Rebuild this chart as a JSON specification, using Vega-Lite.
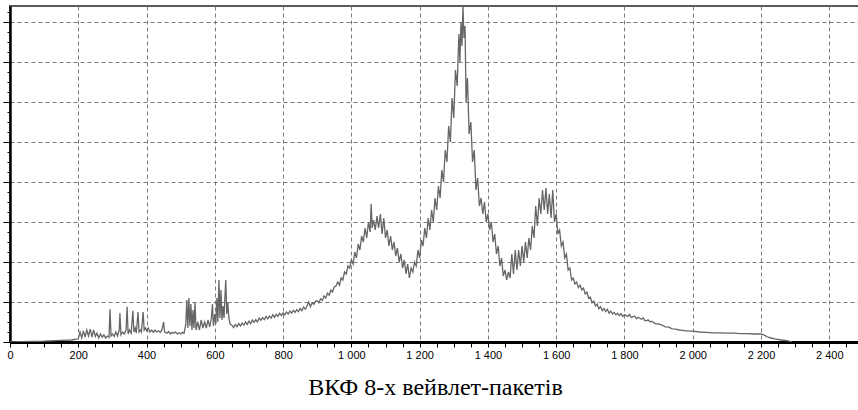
{
  "$schema": "https://vega.github.io/schema/vega-lite/v6.json",
  "autosize": {"type": "none"},
  "padding": {"left": 10, "top": 6, "right": 0, "bottom": 68},
  "width": 850,
  "height": 336,
  "background": "white",
  "config": {
    "view": {"stroke": "#5a5a5a", "strokeWidth": 2},
    "axis": {"labelFont": "Liberation Sans", "labelColor": "black"}
  },
  "data": {"values": [
    {"x":0,"y":0},{"x":100,"y":0.02},{"x":150,"y":0.04},{"x":180,"y":0.05},
    {"x":200,"y":0.08},{"x":205,"y":0.25},{"x":210,"y":0.1},{"x":215,"y":0.28},{"x":220,"y":0.12},{"x":225,"y":0.3},{"x":230,"y":0.15},{"x":235,"y":0.32},{"x":240,"y":0.12},{"x":245,"y":0.3},{"x":250,"y":0.14},{"x":255,"y":0.22},{"x":260,"y":0.1},{"x":265,"y":0.2},{"x":270,"y":0.12},{"x":275,"y":0.18},{"x":280,"y":0.1},{"x":285,"y":0.15},{"x":290,"y":0.12},{"x":293,"y":0.82},{"x":296,"y":0.15},
    {"x":300,"y":0.2},{"x":305,"y":0.14},{"x":310,"y":0.25},{"x":315,"y":0.15},{"x":320,"y":0.3},{"x":322,"y":0.72},{"x":325,"y":0.18},{"x":330,"y":0.25},{"x":335,"y":0.2},{"x":340,"y":0.3},{"x":343,"y":0.88},{"x":346,"y":0.2},{"x":350,"y":0.3},{"x":355,"y":0.22},{"x":360,"y":0.78},{"x":363,"y":0.25},{"x":367,"y":0.35},{"x":370,"y":0.22},{"x":375,"y":0.75},{"x":378,"y":0.25},{"x":382,"y":0.3},{"x":385,"y":0.25},{"x":390,"y":0.75},{"x":393,"y":0.3},{"x":397,"y":0.35},
    {"x":400,"y":0.28},{"x":405,"y":0.35},{"x":410,"y":0.25},{"x":415,"y":0.3},{"x":420,"y":0.24},{"x":425,"y":0.3},{"x":430,"y":0.25},{"x":435,"y":0.28},{"x":440,"y":0.24},{"x":445,"y":0.3},{"x":450,"y":0.5},{"x":453,"y":0.25},{"x":460,"y":0.22},{"x":465,"y":0.26},{"x":470,"y":0.2},{"x":475,"y":0.24},{"x":480,"y":0.22},{"x":485,"y":0.25},{"x":490,"y":0.2},{"x":495,"y":0.23},{"x":500,"y":0.2},{"x":505,"y":0.24},{"x":510,"y":0.22},{"x":515,"y":0.45},
    {"x":518,"y":1.05},{"x":521,"y":0.35},{"x":524,"y":1.1},{"x":527,"y":0.4},{"x":530,"y":0.95},{"x":533,"y":0.3},{"x":536,"y":0.8},{"x":539,"y":0.35},{"x":542,"y":1.0},{"x":545,"y":0.3},{"x":550,"y":0.5},{"x":555,"y":0.3},{"x":560,"y":0.55},{"x":565,"y":0.35},{"x":570,"y":0.5},{"x":575,"y":0.35},{"x":580,"y":0.55},{"x":585,"y":0.38},{"x":590,"y":0.6},{"x":593,"y":0.95},{"x":596,"y":0.4},
    {"x":600,"y":0.7},{"x":603,"y":0.45},{"x":606,"y":1.1},{"x":609,"y":0.5},{"x":612,"y":1.55},{"x":615,"y":0.6},{"x":618,"y":1.3},{"x":621,"y":0.55},{"x":624,"y":0.9},{"x":627,"y":0.6},{"x":630,"y":1.2},{"x":632,"y":1.55},{"x":635,"y":0.7},{"x":638,"y":1.0},{"x":641,"y":0.6},{"x":645,"y":0.45},
    {"x":650,"y":0.42},{"x":655,"y":0.36},{"x":660,"y":0.44},{"x":665,"y":0.38},{"x":670,"y":0.46},{"x":675,"y":0.4},{"x":680,"y":0.47},{"x":685,"y":0.42},{"x":690,"y":0.5},{"x":695,"y":0.44},
    {"x":700,"y":0.52},{"x":705,"y":0.46},{"x":710,"y":0.55},{"x":715,"y":0.49},{"x":720,"y":0.56},{"x":725,"y":0.5},{"x":730,"y":0.6},{"x":735,"y":0.54},{"x":740,"y":0.61},{"x":745,"y":0.56},{"x":750,"y":0.64},{"x":755,"y":0.58},{"x":760,"y":0.65},{"x":765,"y":0.6},{"x":770,"y":0.68},{"x":775,"y":0.62},{"x":780,"y":0.69},{"x":785,"y":0.64},{"x":790,"y":0.72},{"x":795,"y":0.66},
    {"x":800,"y":0.73},{"x":805,"y":0.68},{"x":810,"y":0.75},{"x":815,"y":0.7},{"x":820,"y":0.77},{"x":825,"y":0.72},{"x":830,"y":0.79},{"x":835,"y":0.74},{"x":840,"y":0.81},{"x":845,"y":0.76},{"x":850,"y":0.84},{"x":855,"y":0.78},{"x":860,"y":0.87},{"x":865,"y":0.82},{"x":870,"y":0.9},{"x":875,"y":1.0},{"x":880,"y":0.88},{"x":885,"y":0.98},{"x":890,"y":0.94},{"x":895,"y":1.02},
    {"x":900,"y":1.03},{"x":905,"y":0.98},{"x":910,"y":1.08},{"x":915,"y":1.04},{"x":920,"y":1.15},{"x":925,"y":1.1},{"x":930,"y":1.22},{"x":935,"y":1.17},{"x":940,"y":1.3},{"x":945,"y":1.25},{"x":950,"y":1.38},{"x":955,"y":1.4},{"x":960,"y":1.5},{"x":965,"y":1.42},{"x":970,"y":1.6},{"x":975,"y":1.55},{"x":980,"y":1.75},{"x":985,"y":1.7},{"x":990,"y":1.9},{"x":995,"y":1.85},
    {"x":1000,"y":2.05},{"x":1005,"y":1.95},{"x":1010,"y":2.25},{"x":1015,"y":2.1},{"x":1020,"y":2.45},{"x":1025,"y":2.3},{"x":1030,"y":2.65},{"x":1035,"y":2.5},{"x":1040,"y":2.85},{"x":1045,"y":2.6},{"x":1050,"y":3.0},{"x":1055,"y":2.75},{"x":1058,"y":3.45},{"x":1061,"y":2.85},{"x":1065,"y":3.05},{"x":1070,"y":2.8},{"x":1075,"y":3.15},{"x":1080,"y":2.85},{"x":1085,"y":3.2},{"x":1090,"y":2.7},{"x":1095,"y":3.1},
    {"x":1100,"y":2.6},{"x":1105,"y":2.8},{"x":1110,"y":2.4},{"x":1115,"y":2.65},{"x":1120,"y":2.3},{"x":1125,"y":2.5},{"x":1130,"y":2.15},{"x":1135,"y":2.35},{"x":1140,"y":2.0},{"x":1145,"y":2.2},{"x":1150,"y":1.85},{"x":1155,"y":2.05},{"x":1160,"y":1.7},{"x":1165,"y":1.95},{"x":1170,"y":1.6},{"x":1175,"y":1.85},{"x":1180,"y":1.75},{"x":1185,"y":2.0},{"x":1190,"y":1.9},{"x":1195,"y":2.3},
    {"x":1200,"y":2.1},{"x":1205,"y":2.55},{"x":1210,"y":2.4},{"x":1215,"y":2.85},{"x":1220,"y":2.6},{"x":1225,"y":3.1},{"x":1230,"y":2.8},{"x":1235,"y":3.3},{"x":1240,"y":3.0},{"x":1245,"y":3.6},{"x":1250,"y":3.3},{"x":1255,"y":3.9},{"x":1260,"y":3.6},{"x":1265,"y":4.3},{"x":1270,"y":4.0},{"x":1275,"y":4.8},{"x":1280,"y":4.5},{"x":1285,"y":5.4},{"x":1290,"y":5.0},{"x":1295,"y":6.1},
    {"x":1300,"y":5.6},{"x":1305,"y":6.8},{"x":1310,"y":6.4},{"x":1315,"y":7.7},{"x":1318,"y":7.0},{"x":1321,"y":8.0},{"x":1324,"y":7.4},{"x":1327,"y":8.4},{"x":1330,"y":7.6},{"x":1333,"y":7.9},{"x":1336,"y":6.0},{"x":1340,"y":6.6},{"x":1345,"y":5.2},{"x":1350,"y":5.5},{"x":1355,"y":4.5},{"x":1360,"y":4.8},{"x":1365,"y":3.8},{"x":1370,"y":4.1},{"x":1375,"y":3.4},{"x":1380,"y":3.6},{"x":1385,"y":3.2},{"x":1390,"y":3.5},{"x":1395,"y":3.0},
    {"x":1400,"y":3.2},{"x":1405,"y":2.8},{"x":1410,"y":3.0},{"x":1415,"y":2.5},{"x":1420,"y":2.7},{"x":1425,"y":2.2},{"x":1430,"y":2.4},{"x":1435,"y":1.9},{"x":1440,"y":2.1},{"x":1445,"y":1.65},{"x":1450,"y":1.8},{"x":1455,"y":1.55},{"x":1460,"y":1.75},{"x":1465,"y":1.6},{"x":1470,"y":2.2},{"x":1475,"y":1.7},{"x":1480,"y":2.3},{"x":1485,"y":1.8},{"x":1490,"y":2.3},{"x":1495,"y":1.9},
    {"x":1500,"y":2.4},{"x":1505,"y":2.0},{"x":1510,"y":2.5},{"x":1515,"y":2.1},{"x":1520,"y":2.6},{"x":1525,"y":2.3},{"x":1530,"y":2.9},{"x":1535,"y":2.6},{"x":1540,"y":3.4},{"x":1545,"y":2.9},{"x":1550,"y":3.6},{"x":1555,"y":3.2},{"x":1560,"y":3.8},{"x":1565,"y":3.3},{"x":1570,"y":3.85},{"x":1575,"y":3.2},{"x":1580,"y":3.7},{"x":1585,"y":3.1},{"x":1590,"y":3.8},{"x":1595,"y":3.0},
    {"x":1600,"y":3.2},{"x":1605,"y":2.7},{"x":1610,"y":2.8},{"x":1615,"y":2.4},{"x":1620,"y":2.5},{"x":1625,"y":2.1},{"x":1630,"y":2.2},{"x":1635,"y":1.8},{"x":1640,"y":1.85},{"x":1645,"y":1.55},
    {"x":1650,"y":1.6},{"x":1655,"y":1.45},{"x":1660,"y":1.5},{"x":1665,"y":1.36},{"x":1670,"y":1.42},{"x":1675,"y":1.3},{"x":1680,"y":1.35},{"x":1685,"y":1.2},{"x":1690,"y":1.25},{"x":1695,"y":1.1},
    {"x":1700,"y":1.12},{"x":1705,"y":0.98},{"x":1710,"y":1.02},{"x":1715,"y":0.9},{"x":1720,"y":0.95},{"x":1725,"y":0.83},{"x":1730,"y":0.88},{"x":1735,"y":0.78},{"x":1740,"y":0.84},{"x":1745,"y":0.76},{"x":1750,"y":0.82},{"x":1755,"y":0.72},{"x":1760,"y":0.77},{"x":1765,"y":0.7},{"x":1770,"y":0.74},{"x":1775,"y":0.68},{"x":1780,"y":0.72},{"x":1785,"y":0.66},{"x":1790,"y":0.71},{"x":1795,"y":0.64},
    {"x":1800,"y":0.68},{"x":1810,"y":0.64},{"x":1815,"y":0.69},{"x":1820,"y":0.61},{"x":1830,"y":0.65},{"x":1835,"y":0.58},{"x":1840,"y":0.62},{"x":1850,"y":0.57},{"x":1855,"y":0.6},{"x":1860,"y":0.53},{"x":1870,"y":0.55},{"x":1875,"y":0.5},{"x":1880,"y":0.52},{"x":1890,"y":0.46},
    {"x":1900,"y":0.45},{"x":1910,"y":0.42},{"x":1920,"y":0.38},{"x":1930,"y":0.37},{"x":1940,"y":0.33},{"x":1950,"y":0.32},{"x":1960,"y":0.3},{"x":1970,"y":0.29},{"x":1980,"y":0.28},{"x":1990,"y":0.27},{"x":2000,"y":0.27},{"x":2020,"y":0.25},{"x":2040,"y":0.24},{"x":2060,"y":0.23},{"x":2080,"y":0.23},{"x":2100,"y":0.22},{"x":2120,"y":0.22},{"x":2140,"y":0.21},{"x":2160,"y":0.21},{"x":2180,"y":0.2},
    {"x":2200,"y":0.2},{"x":2210,"y":0.17},{"x":2220,"y":0.12},{"x":2230,"y":0.1},{"x":2240,"y":0.08},{"x":2260,"y":0.05},{"x":2280,"y":0.03},{"x":2290,"y":0.0}
  ]},
  "mark": {"type": "line", "color": "#666666", "strokeWidth": 1.3, "clip": true},
  "encoding": {
    "x": {
      "field": "x", "type": "quantitative",
      "scale": {"domain": [0, 2490], "nice": false, "zero": false},
      "axis": {
        "values": [0,50,100,150,200,250,300,350,400,450,500,550,600,650,700,750,800,850,900,950,1000,1050,1100,1150,1200,1250,1300,1350,1400,1450,1500,1550,1600,1650,1700,1750,1800,1850,1900,1950,2000,2050,2100,2150,2200,2250,2300,2350,2400,2450],
        "labelExpr": "datum.value % 200 === 0 ? replace(format(datum.value, ','), ',', ' ') : ''",
        "labelOverlap": false,
        "labelFlush": false,
        "labelFontSize": 11,
        "labelPadding": 2,
        "domainColor": "black",
        "domainWidth": 3,
        "tickColor": "black",
        "tickSize": 5,
        "tickWidth": 1,
        "grid": true,
        "gridColor": "#7a7a7a",
        "gridDash": [4, 3],
        "gridWidth": 1,
        "gridOpacity": {"condition": {"test": "datum.value % 200 === 0 && datum.value > 0", "value": 1}, "value": 0},
        "title": "ВКФ 8-х вейвлет-пакетів",
        "titleFont": "Liberation Serif",
        "titleFontSize": 24,
        "titleFontWeight": "normal",
        "titleColor": "black",
        "titlePadding": 15
      }
    },
    "y": {
      "field": "y", "type": "quantitative",
      "scale": {"domain": [0, 8.4], "nice": false, "zero": true},
      "axis": {
        "values": [0,0.25,0.5,0.75,1,1.25,1.5,1.75,2,2.25,2.5,2.75,3,3.25,3.5,3.75,4,4.25,4.5,4.75,5,5.25,5.5,5.75,6,6.25,6.5,6.75,7,7.25,7.5,7.75,8,8.25],
        "labels": false,
        "title": null,
        "domainColor": "black",
        "domainWidth": 2.5,
        "tickColor": "black",
        "tickSize": {"condition": {"test": "datum.value % 1 === 0", "value": 7}, "value": 3},
        "tickWidth": 1,
        "grid": true,
        "gridColor": "#7a7a7a",
        "gridDash": [4, 3],
        "gridWidth": 1,
        "gridOpacity": {"condition": {"test": "datum.value % 1 === 0 && datum.value > 0", "value": 1}, "value": 0}
      }
    }
  }
}
